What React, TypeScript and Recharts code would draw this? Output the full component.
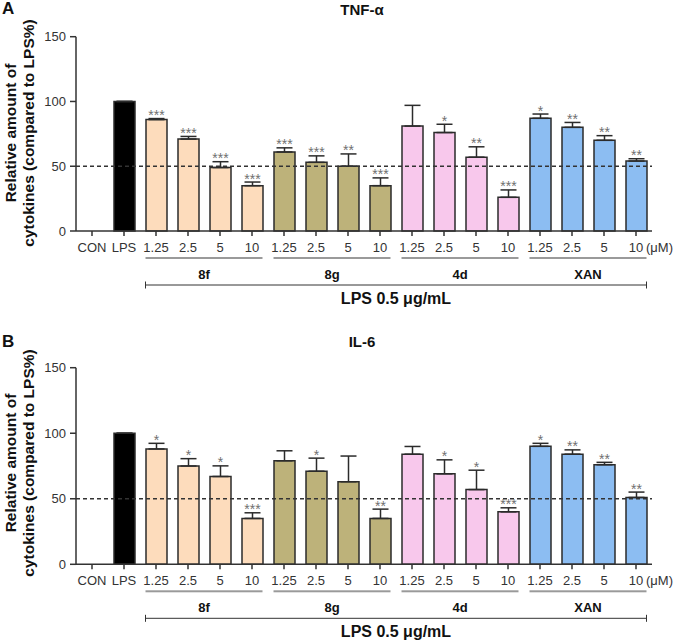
import React from 'react';
import { BarChart, Bar, XAxis, YAxis, ReferenceLine, ErrorBar, Cell, LabelList } from 'recharts';

const categories = ['CON', 'LPS', '1.25', '2.5', '5', '10', '1.25', '2.5', '5', '10', '1.25', '2.5', '5', '10', '1.25', '2.5', '5', '10'];
const groups = ['', '', '8f', '8f', '8f', '8f', '8g', '8g', '8g', '8g', '4d', '4d', '4d', '4d', 'XAN', 'XAN', 'XAN', 'XAN'];
const groupNames = ['8f', '8g', '4d', 'XAN'];

const tnfValues = [0, 100, 86, 71, 49, 35, 61, 53, 50, 35, 81, 76, 57, 26, 87, 80, 70, 54];
const tnfErrors = [null, 0, 0.8, 2, 4.5, 2.8, 3.2, 5, 9.5, 6, 16, 6.4, 8, 5.7, 3.3, 3.8, 3.6, 1.8];
const tnfSig = ['', '', '***', '***', '***', '***', '***', '***', '**', '***', '', '*', '**', '***', '*', '**', '**', '**'];

const il6Values = [0, 100, 88, 75, 67, 35, 79, 71, 63, 35, 84, 69, 57, 40, 90, 84, 76, 51];
const il6Errors = [null, 0, 4.3, 5.6, 8.1, 4.3, 7.6, 10, 19.6, 7.1, 5.9, 10.7, 14.8, 3.1, 2.3, 3.3, 1.8, 4.1];
const il6Sig = ['', '', '*', '*', '*', '***', '', '*', '', '**', '', '*', '*', '***', '*', '**', '**', '**'];

const colors: Record<string, string> = { '': '#000000', '8f': '#fddcbc', '8g': '#bdb27a', '4d': '#f8c8ec', XAN: '#8cbdf2' };

const FONT = '"Liberation Sans", Arial, sans-serif';
const PLOT_LEFT = 76;
const PLOT_RIGHT = 652;
const BAND = (PLOT_RIGHT - PLOT_LEFT) / categories.length;
const BAR = 21;

const makeRows = (vals: (number | null)[], errs: (number | null)[], sig: string[]) =>
  categories.map((c, i) => ({
    key: i + '-' + c,
    value: vals[i],
    err: errs[i] == null ? undefined : [0, errs[i]],
    errUp: errs[i] ?? 0,
    sig: sig[i],
    group: groups[i],
  }));

const GroupTick = (props: any) => {
  const { x, y, payload } = props;
  const i = props.index ?? payload.index;
  const axisY = y - 7;
  const label = categories[i];
  const els: any[] = [];
  els.push(
    <text key="t" x={x} y={axisY + 21} textAnchor="middle" fontSize={13} fill="#333" fontFamily={FONT}>{label}</text>
  );
  if (i === categories.length - 1) {
    els.push(<text key="u" x={x + 10} y={axisY + 21} textAnchor="start" fontSize={13} fill="#333" fontFamily={FONT}>(μM)</text>);
  }
  if (i >= 2) {
    const pos = (i - 2) % 4;
    const gl = pos === 0 ? x - BAR / 2 : x - BAND / 2;
    const gr = pos === 3 ? x + BAR / 2 : x + BAND / 2;
    els.push(<line key="g" x1={gl} x2={gr} y1={axisY + 27} y2={axisY + 27} stroke="#9a9a9a" strokeWidth={2} />);
    if (pos === 1) {
      els.push(
        <text key="gn" x={x + BAND / 2} y={axisY + 47.5} textAnchor="middle" fontSize={13} fontWeight="bold" fill="#111" fontFamily={FONT}>
          {groupNames[Math.floor((i - 2) / 4)]}
        </text>
      );
    }
    const bl = i === 2 ? x - BAR / 2 : x - BAND / 2;
    const br = i === categories.length - 1 ? x + BAR / 2 : x + BAND / 2;
    els.push(<line key="b" x1={bl} x2={br} y1={axisY + 54} y2={axisY + 54} stroke="#333" strokeWidth={1} />);
    if (i === 2) els.push(<line key="bl" x1={bl} x2={bl} y1={axisY + 50.5} y2={axisY + 57.5} stroke="#333" strokeWidth={1} />);
    if (i === categories.length - 1) els.push(<line key="br" x1={br} x2={br} y1={axisY + 50.5} y2={axisY + 57.5} stroke="#333" strokeWidth={1} />);
    if (i === 9) {
      els.push(
        <text key="lps" x={x + BAND / 2} y={axisY + 73} textAnchor="middle" fontSize={16} fontWeight="bold" fill="#111" fontFamily={FONT}>
          LPS 0.5 μg/mL
        </text>
      );
    }
  }
  return <g>{els}</g>;
};

const Panel = ({ rows, height, top, bottom }: { rows: any[]; height: number; top: number; bottom: number }) => {
  const stars = (p: any) => {
    const { x, y, width, height: h } = p;
    const idx = Math.round((x + width / 2 - PLOT_LEFT - BAND / 2) / BAND);
    const r = rows[idx];
    if (!r || !r.sig || !r.value) return null;
    const ppu = h / r.value;
    const errTop = y - r.errUp * ppu;
    return (
      <text x={x + width / 2} y={errTop + 1.5} textAnchor="middle" fontSize={14} fill="#707070" fontFamily={FONT}>
        {r.sig}
      </text>
    );
  };
  return (
    <BarChart width={674} height={height} data={rows} margin={{ top, right: 674 - PLOT_RIGHT, bottom: 2, left: PLOT_LEFT - 60 }} barSize={BAR}>
      <XAxis
        dataKey="key"
        interval={0}
        tickSize={5}
        tickMargin={2}
        height={bottom - 2}
        stroke="#333"
        strokeWidth={1.5}
        tick={<GroupTick />}
      />
      <YAxis
        domain={[0, 150]}
        ticks={[0, 50, 100, 150]}
        width={60}
        tickSize={6}
        tickMargin={4}
        stroke="#333"
        strokeWidth={1.5}
        tick={{ fontSize: 13, fill: '#333', fontFamily: FONT }}
      />
      <Bar dataKey="value" stroke="#2b2b2b" strokeWidth={1.5} isAnimationActive={false}>
        {rows.map((r, i) => (
          <Cell key={i} fill={colors[r.group]} />
        ))}
        <ErrorBar dataKey="err" width={8} stroke="#2b2b2b" strokeWidth={1.5} direction="y" />
        <LabelList dataKey="sig" content={stars} />
      </Bar>
      <ReferenceLine y={50} stroke="#333" strokeWidth={1.5} strokeDasharray="4 3" />
    </BarChart>
  );
};

const tnfRows = makeRows(tnfValues, tnfErrors, tnfSig);
const il6Rows = makeRows(il6Values, il6Errors, il6Sig);

const YLabel = ({ cy }: { cy: number }) => (
  <g fontFamily={FONT} fontWeight="bold" fontSize={15.5} fill="#111" textAnchor="middle">
    <text transform={`translate(16,${cy}) rotate(-90)`}>Relative amount of</text>
    <text transform={`translate(34,${cy}) rotate(-90)`}>cytokines (compared to LPS%)</text>
  </g>
);

export default function App() {
  return (
    <div style={{ position: 'absolute', left: 0, top: 0, width: 674, height: 642, background: '#fff', fontFamily: FONT }}>
      <div style={{ position: 'absolute', left: 0, top: 0 }}>
        <Panel rows={tnfRows} height={320} top={36.7} bottom={89} />
      </div>
      <div style={{ position: 'absolute', left: 0, top: 320 }}>
        <Panel rows={il6Rows} height={322} top={47.7} bottom={77.7} />
      </div>
      <svg width={674} height={642} style={{ position: 'absolute', left: 0, top: 0, pointerEvents: 'none' }}>
        <text x={2} y={14} fontFamily={FONT} fontWeight="bold" fontSize={17} fill="#111">A</text>
        <text x={362} y={15} textAnchor="middle" fontFamily={FONT} fontWeight="bold" fontSize={15} fill="#111">TNF-α</text>
        <YLabel cy={133} />
        <text x={2} y={347} fontFamily={FONT} fontWeight="bold" fontSize={17} fill="#111">B</text>
        <text x={362} y={347} textAnchor="middle" fontFamily={FONT} fontWeight="bold" fontSize={15} fill="#111">IL-6</text>
        <YLabel cy={463} />
      </svg>
    </div>
  );
}
